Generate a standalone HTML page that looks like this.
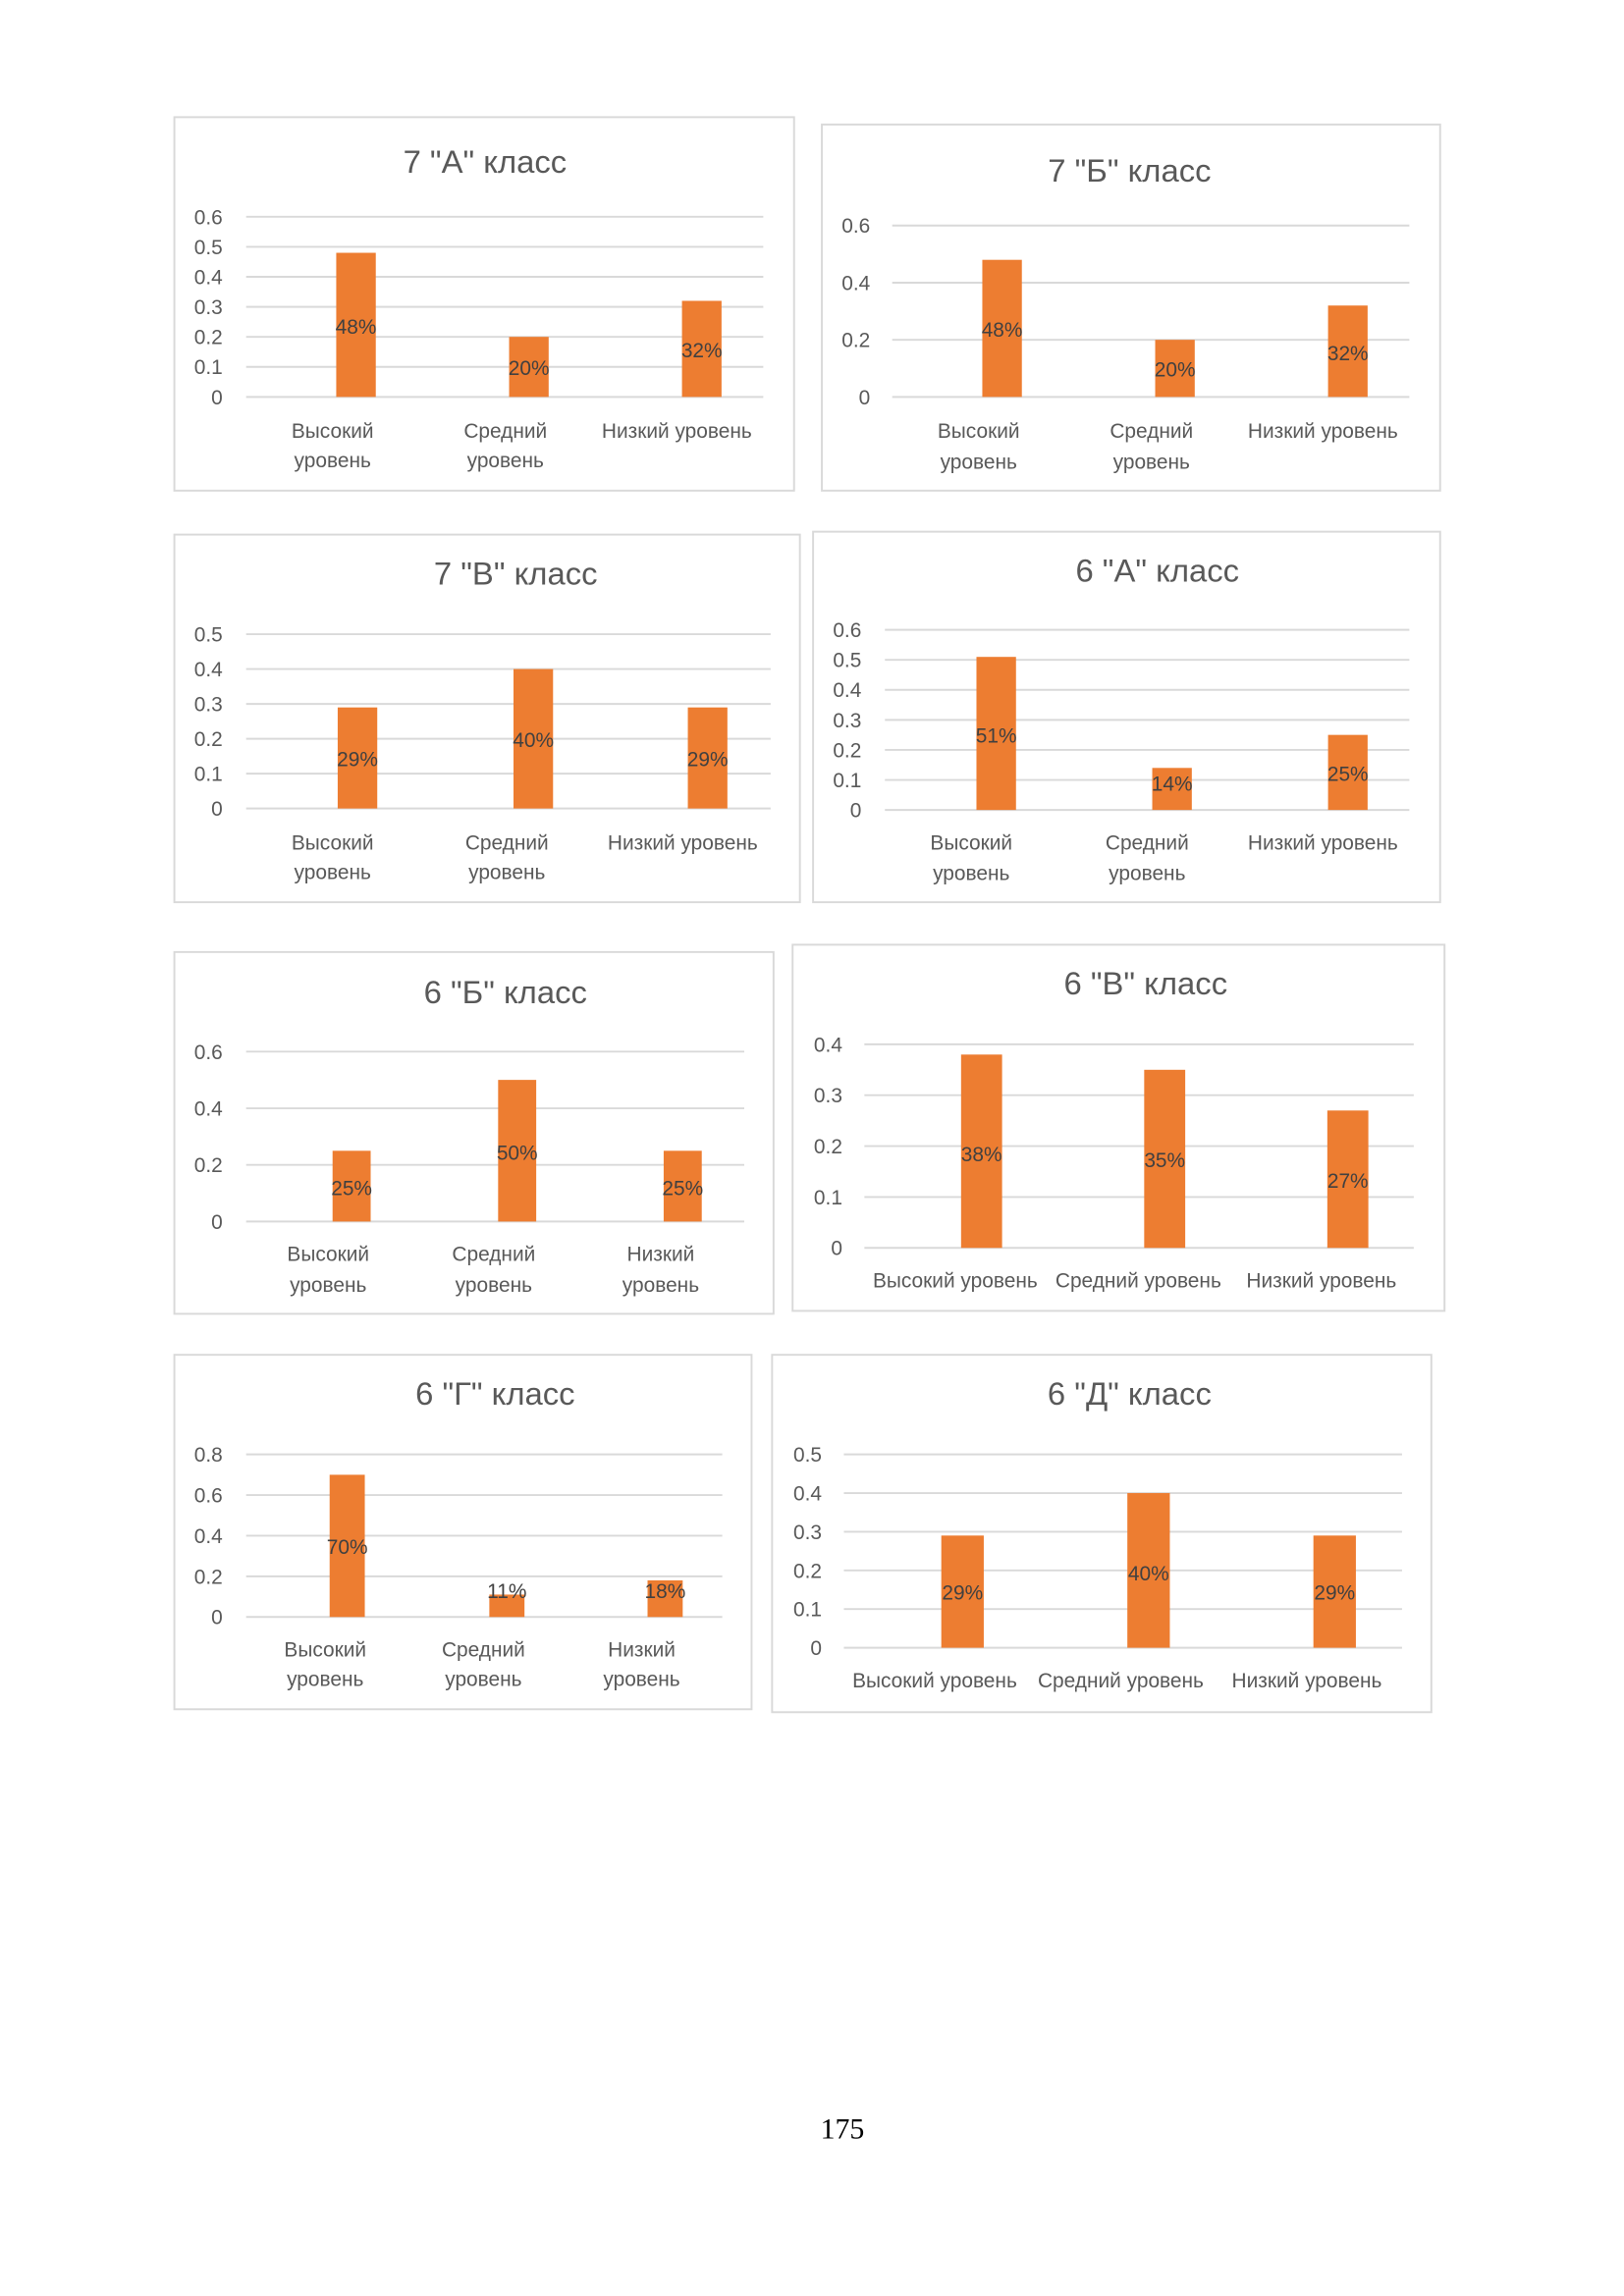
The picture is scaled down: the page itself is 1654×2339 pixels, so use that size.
<!DOCTYPE html>
<html><head><meta charset="utf-8"><style>
html,body{margin:0;padding:0;background:#fff;}
svg{display:block}
text{font-family:"Liberation Sans",sans-serif;fill:#595959}
.t{font-size:22px;text-anchor:middle}
.k{font-size:14px;text-anchor:end}
.c{font-size:14px;text-anchor:middle}
.d{font-size:14px;text-anchor:middle;fill:#404040}
.g{stroke:#d9d9d9;stroke-width:1.3}
.b{fill:none;stroke:#d9d9d9;stroke-width:1.3}
.r{fill:#ED7D31}
</style></head><body>
<svg width="1654" height="2339" viewBox="0 0 1108.5 1567.6" xmlns="http://www.w3.org/2000/svg">
<!-- Chart 1 -->
<rect class="b" x="119" y="80" width="423" height="255"/>
<text class="t" x="331" y="118">7 "А" класс</text>
<g class="g"><line x1="168" x2="521" y1="271" y2="271"/><line x1="168" x2="521" y1="250.5" y2="250.5"/><line x1="168" x2="521" y1="230" y2="230"/><line x1="168" x2="521" y1="209.5" y2="209.5"/><line x1="168" x2="521" y1="189" y2="189"/><line x1="168" x2="521" y1="168.5" y2="168.5"/><line x1="168" x2="521" y1="148" y2="148"/></g>
<text class="k" x="152" y="276">0</text><text class="k" x="152" y="255.5">0.1</text><text class="k" x="152" y="235">0.2</text><text class="k" x="152" y="214.5">0.3</text><text class="k" x="152" y="194">0.4</text><text class="k" x="152" y="173.5">0.5</text><text class="k" x="152" y="153">0.6</text>
<rect class="r" x="229.5" y="172.6" width="27" height="98.4"/><rect class="r" x="347.5" y="230" width="27" height="41"/><rect class="r" x="465.5" y="205.4" width="27" height="65.6"/>
<text class="d" x="243" y="228">48%</text><text class="d" x="361" y="256">20%</text><text class="d" x="479" y="244">32%</text>
<text class="c" x="227" y="299">Высокий</text><text class="c" x="227" y="319">уровень</text><text class="c" x="345" y="299">Средний</text><text class="c" x="345" y="319">уровень</text><text class="c" x="462" y="299">Низкий уровень</text>
<!-- Chart 2 -->
<rect class="b" x="561" y="85" width="422" height="250"/>
<text class="t" x="771" y="124">7 "Б" класс</text>
<g class="g"><line x1="609" x2="962" y1="271" y2="271"/><line x1="609" x2="962" y1="232" y2="232"/><line x1="609" x2="962" y1="193" y2="193"/><line x1="609" x2="962" y1="154" y2="154"/></g>
<text class="k" x="594" y="276">0</text><text class="k" x="594" y="237">0.2</text><text class="k" x="594" y="198">0.4</text><text class="k" x="594" y="159">0.6</text>
<rect class="r" x="670.5" y="177.4" width="27" height="93.6"/><rect class="r" x="788.5" y="232" width="27" height="39"/><rect class="r" x="906.5" y="208.6" width="27" height="62.4"/>
<text class="d" x="684" y="230">48%</text><text class="d" x="802" y="257">20%</text><text class="d" x="920" y="246">32%</text>
<text class="c" x="668" y="299">Высокий</text><text class="c" x="668" y="320">уровень</text><text class="c" x="786" y="299">Средний</text><text class="c" x="786" y="320">уровень</text><text class="c" x="903" y="299">Низкий уровень</text>
<!-- Chart 3 -->
<rect class="b" x="119" y="365" width="427" height="251"/>
<text class="t" x="352" y="399">7 "В" класс</text>
<g class="g"><line x1="168" x2="526" y1="552" y2="552"/><line x1="168" x2="526" y1="528.2" y2="528.2"/><line x1="168" x2="526" y1="504.4" y2="504.4"/><line x1="168" x2="526" y1="480.6" y2="480.6"/><line x1="168" x2="526" y1="456.8" y2="456.8"/><line x1="168" x2="526" y1="433" y2="433"/></g>
<text class="k" x="152" y="557">0</text><text class="k" x="152" y="533.2">0.1</text><text class="k" x="152" y="509.4">0.2</text><text class="k" x="152" y="485.6">0.3</text><text class="k" x="152" y="461.8">0.4</text><text class="k" x="152" y="438">0.5</text>
<rect class="r" x="230.5" y="483" width="27" height="69"/><rect class="r" x="350.5" y="456.8" width="27" height="95.2"/><rect class="r" x="469.5" y="483" width="27" height="69"/>
<text class="d" x="244" y="523">29%</text><text class="d" x="364" y="510">40%</text><text class="d" x="483" y="523">29%</text>
<text class="c" x="227" y="580">Высокий</text><text class="c" x="227" y="600">уровень</text><text class="c" x="346" y="580">Средний</text><text class="c" x="346" y="600">уровень</text><text class="c" x="466" y="580">Низкий уровень</text>
<!-- Chart 4 -->
<rect class="b" x="555" y="363" width="428" height="253"/>
<text class="t" x="790" y="397">6 "А" класс</text>
<g class="g"><line x1="604" x2="962" y1="553" y2="553"/><line x1="604" x2="962" y1="532.5" y2="532.5"/><line x1="604" x2="962" y1="512" y2="512"/><line x1="604" x2="962" y1="491.5" y2="491.5"/><line x1="604" x2="962" y1="471" y2="471"/><line x1="604" x2="962" y1="450.5" y2="450.5"/><line x1="604" x2="962" y1="430" y2="430"/></g>
<text class="k" x="588" y="558">0</text><text class="k" x="588" y="537.5">0.1</text><text class="k" x="588" y="517">0.2</text><text class="k" x="588" y="496.5">0.3</text><text class="k" x="588" y="476">0.4</text><text class="k" x="588" y="455.5">0.5</text><text class="k" x="588" y="435">0.6</text>
<rect class="r" x="666.5" y="448.5" width="27" height="104.5"/><rect class="r" x="786.5" y="524.3" width="27" height="28.7"/><rect class="r" x="906.5" y="501.75" width="27" height="51.25"/>
<text class="d" x="680" y="507">51%</text><text class="d" x="800" y="540">14%</text><text class="d" x="920" y="533">25%</text>
<text class="c" x="663" y="580">Высокий</text><text class="c" x="663" y="601">уровень</text><text class="c" x="783" y="580">Средний</text><text class="c" x="783" y="601">уровень</text><text class="c" x="903" y="580">Низкий уровень</text>
<!-- Chart 5 -->
<rect class="b" x="119" y="650" width="409" height="247"/>
<text class="t" x="345" y="685">6 "Б" класс</text>
<g class="g"><line x1="168" x2="508" y1="834" y2="834"/><line x1="168" x2="508" y1="795.3" y2="795.3"/><line x1="168" x2="508" y1="756.7" y2="756.7"/><line x1="168" x2="508" y1="718" y2="718"/></g>
<text class="k" x="152" y="839">0</text><text class="k" x="152" y="800.3">0.2</text><text class="k" x="152" y="761.7">0.4</text><text class="k" x="152" y="723">0.6</text>
<rect class="r" x="227" y="785.7" width="26" height="48.3"/><rect class="r" x="340" y="737.3" width="26" height="96.7"/><rect class="r" x="453" y="785.7" width="26" height="48.3"/>
<text class="d" x="240" y="816">25%</text><text class="d" x="353" y="792">50%</text><text class="d" x="466" y="816">25%</text>
<text class="c" x="224" y="861">Высокий</text><text class="c" x="224" y="882">уровень</text><text class="c" x="337" y="861">Средний</text><text class="c" x="337" y="882">уровень</text><text class="c" x="451" y="861">Низкий</text><text class="c" x="451" y="882">уровень</text>
<!-- Chart 6 -->
<rect class="b" x="541" y="645" width="445" height="250"/>
<text class="t" x="782" y="679">6 "В" класс</text>
<g class="g"><line x1="590" x2="965" y1="852" y2="852"/><line x1="590" x2="965" y1="817.25" y2="817.25"/><line x1="590" x2="965" y1="782.5" y2="782.5"/><line x1="590" x2="965" y1="747.75" y2="747.75"/><line x1="590" x2="965" y1="713" y2="713"/></g>
<text class="k" x="575" y="857">0</text><text class="k" x="575" y="822.25">0.1</text><text class="k" x="575" y="787.5">0.2</text><text class="k" x="575" y="752.75">0.3</text><text class="k" x="575" y="718">0.4</text>
<rect class="r" x="656" y="720" width="28" height="132"/><rect class="r" x="781" y="730.4" width="28" height="121.6"/><rect class="r" x="906" y="758.2" width="28" height="93.8"/>
<text class="d" x="670" y="793">38%</text><text class="d" x="795" y="797">35%</text><text class="d" x="920" y="811">27%</text>
<text class="c" x="652" y="879">Высокий уровень</text><text class="c" x="777" y="879">Средний уровень</text><text class="c" x="902" y="879">Низкий уровень</text>
<!-- Chart 7 -->
<rect class="b" x="119" y="925" width="394" height="242"/>
<text class="t" x="338" y="959">6 "Г" класс</text>
<g class="g"><line x1="168" x2="493" y1="1104" y2="1104"/><line x1="168" x2="493" y1="1076.25" y2="1076.25"/><line x1="168" x2="493" y1="1048.5" y2="1048.5"/><line x1="168" x2="493" y1="1020.75" y2="1020.75"/><line x1="168" x2="493" y1="993" y2="993"/></g>
<text class="k" x="152" y="1109">0</text><text class="k" x="152" y="1081.25">0.2</text><text class="k" x="152" y="1053.5">0.4</text><text class="k" x="152" y="1025.75">0.6</text><text class="k" x="152" y="998">0.8</text>
<rect class="r" x="225" y="1006.9" width="24" height="97.1"/><rect class="r" x="334" y="1088.7" width="24" height="15.3"/><rect class="r" x="442" y="1079" width="24" height="25"/>
<text class="d" x="237" y="1061">70%</text><text class="d" x="346" y="1091">11%</text><text class="d" x="454" y="1091">18%</text>
<text class="c" x="222" y="1131">Высокий</text><text class="c" x="222" y="1151">уровень</text><text class="c" x="330" y="1131">Средний</text><text class="c" x="330" y="1151">уровень</text><text class="c" x="438" y="1131">Низкий</text><text class="c" x="438" y="1151">уровень</text>
<!-- Chart 8 -->
<rect class="b" x="527" y="925" width="450" height="244"/>
<text class="t" x="771" y="959">6 "Д" класс</text>
<g class="g"><line x1="576" x2="957" y1="1125" y2="1125"/><line x1="576" x2="957" y1="1098.6" y2="1098.6"/><line x1="576" x2="957" y1="1072.2" y2="1072.2"/><line x1="576" x2="957" y1="1045.8" y2="1045.8"/><line x1="576" x2="957" y1="1019.4" y2="1019.4"/><line x1="576" x2="957" y1="993" y2="993"/></g>
<text class="k" x="561" y="1130">0</text><text class="k" x="561" y="1103.6">0.1</text><text class="k" x="561" y="1077.2">0.2</text><text class="k" x="561" y="1050.8">0.3</text><text class="k" x="561" y="1024.4">0.4</text><text class="k" x="561" y="998">0.5</text>
<rect class="r" x="642.5" y="1048.4" width="29" height="76.6"/><rect class="r" x="769.5" y="1019.4" width="29" height="105.6"/><rect class="r" x="896.5" y="1048.4" width="29" height="76.6"/>
<text class="d" x="657" y="1092">29%</text><text class="d" x="784" y="1079">40%</text><text class="d" x="911" y="1092">29%</text>
<text class="c" x="638" y="1152">Высокий уровень</text><text class="c" x="765" y="1152">Средний уровень</text><text class="c" x="892" y="1152">Низкий уровень</text>
<text x="575" y="1460" style="font-family:'Liberation Serif',serif;font-size:20px;text-anchor:middle;fill:#000">175</text>
</svg>
</body></html>
